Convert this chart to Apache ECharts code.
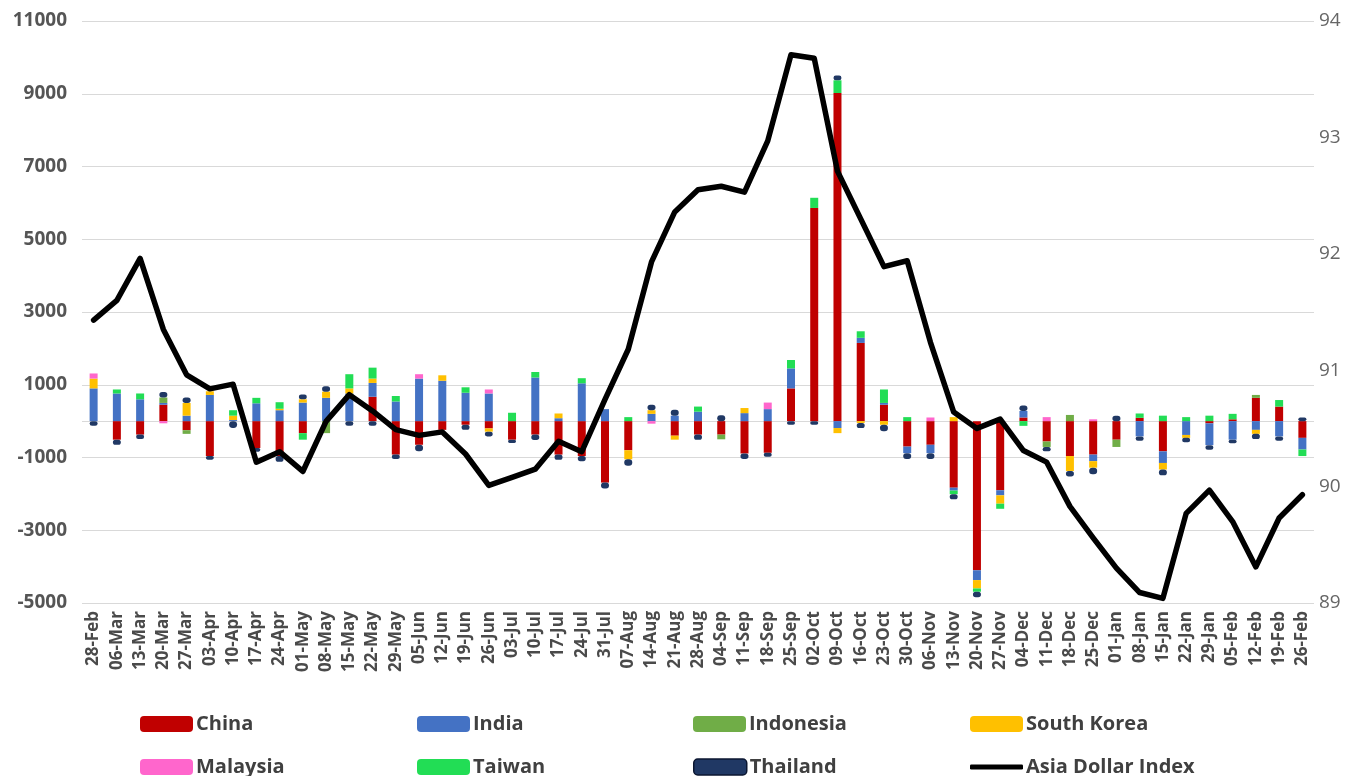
<!DOCTYPE html>
<html>
<head>
<meta charset="utf-8">
<script src="https://cdn.jsdelivr.net/npm/echarts@6/dist/echarts.min.js"></script>
<style>
html,body{margin:0;padding:0;background:#fff;}
#chart{width:1367px;height:776px;}
</style>
</head>
<body>
<div id="chart"></div>
<script>
const categories = ['28-Feb','06-Mar','13-Mar','20-Mar','27-Mar','03-Apr','10-Apr','17-Apr','24-Apr','01-May','08-May','15-May','22-May','29-May','05-Jun','12-Jun','19-Jun','26-Jun','03-Jul','10-Jul','17-Jul','24-Jul','31-Jul','07-Aug','14-Aug','21-Aug','28-Aug','04-Sep','11-Sep','18-Sep','25-Sep','02-Oct','09-Oct','16-Oct','23-Oct','30-Oct','06-Nov','13-Nov','20-Nov','27-Nov','04-Dec','11-Dec','18-Dec','25-Dec','01-Jan','08-Jan','15-Jan','22-Jan','29-Jan','05-Feb','12-Feb','19-Feb','26-Feb'];

const china = [0,-510,-370,450,-250,-960,0,-740,-960,-330, 0,0,670,-920,-650,-240,-100,-200,-510,-370, -920,-960,-1690,-800,0,-400,-370,-370,-890,-870, 900,5860,9020,2150,450,-700,-650,-1830,-4100,-1900, 100,-560,-960,-920,-510,90,-830,0,-60,50, 640,400,-460];
const india = [900,760,600,50,150,720,30,490,300,510, 640,760,380,540,1170,1110,780,760,0,1200, 80,1040,330,0,200,150,260,0,220,330, 550,0,-190,140,50,-180,-230,-80,-270,-140, 180,0,0,-180,0,-420,-320,-380,-600,-510, -240,-420,-320];
const indonesia = [0,0,0,150,-100,0,0,0,0,0, -330,0,0,0,0,0,0,0,0,0, 0,0,0,0,0,0,0,-130,0,0, 0,0,0,0,0,0,0,0,0,0, 0,-150,170,0,-200,0,0,0,0,0, 80,0,0];
const southKorea = [270,0,0,0,350,100,120,0,40,90, 170,140,120,0,0,150,0,-90,0,0, 130,0,0,-250,100,-110,0,0,140,0, 0,0,-140,-50,-100,0,0,110,-230,-230, 0,0,-410,-180,0,0,-180,-80,0,0, -110,0,0];
const malaysia = [140,0,0,-60,0,0,0,0,0,0, 0,0,0,0,120,0,0,110,0,0, 0,0,0,0,-70,0,0,0,0,180, 0,0,0,0,0,0,100,0,0,0, 0,110,0,50,0,0,0,0,0,0, 0,0,0];
const taiwan = [0,110,160,0,0,0,150,150,180,-180, 0,390,300,150,0,0,150,0,230,150, 0,140,0,110,0,0,140,0,0,0, 230,280,350,180,370,110,0,-100,-90,-140, -130,0,0,0,0,120,150,110,150,150, 0,180,-180];
const thailand = [-130,-140,-120,150,150,-100,-190,-100,-160,130, 150,-130,-130,-120,-180,0,-140,-130,-90,-150, -140,-140,-160,-180,150,160,-140,160,-150,-110, -100,-100,130,-140,-180,-160,-160,-140,-150,0, 150,-120,-150,-180,150,-120,-160,-120,-130,-100, -140,-120,100];
const asiaDollarIndex = [91.43,91.60,91.96,91.35,90.96,90.84,90.88,90.21,90.30,90.13, 90.56,90.79,90.65,90.49,90.44,90.47,90.28,90.01,90.08,90.15, 90.39,90.30,90.75,91.18,91.93,92.36,92.55,92.58,92.53,92.97, 93.71,93.68,92.71,92.30,91.89,91.94,91.24,90.64,90.50,90.58, 90.31,90.21,89.83,89.56,89.30,89.09,89.04,89.77,89.97,89.70, 89.31,89.73,89.93];

const leftTicks = {min:-5000, max:11000, interval:2000};
const rightTicks = {min:89, max:94, interval:1};

const barSeries = [
  ['China', china, '#C00000'],
  ['India', india, '#4472C4'],
  ['Indonesia', indonesia, '#70AD47'],
  ['South Korea', southKorea, '#FFC000'],
  ['Malaysia', malaysia, '#FF66CC'],
  ['Taiwan', taiwan, '#22DD55'],
  ['Thailand', thailand, '#203864']
];

const FONT = 'Open Sans';
const series = barSeries.map(([name, data, color], i) => {
  const s = {
    name, type:'bar', stack:'flows', data, barWidth:8,
    itemStyle:{color, borderRadius: name === 'Thailand' ? 4 : 0},
    emphasis:{disabled:true}, z:2
  };
  if (i === 0) {
    s.markLine = {silent:true, symbol:'none', label:{show:false},
      lineStyle:{color:'#D9D9D9', width:1, type:'solid'}, data:[{yAxis:0}], z:1};
  }
  return s;
});
series.push({
  name:'Asia Dollar Index', type:'line', yAxisIndex:1, data:asiaDollarIndex,
  symbol:'none', color:'#000', z:5,
  lineStyle:{color:'#000', width:5.5, join:'round', cap:'round'},
  emphasis:{disabled:true}
});

const legendSpots = [
  ['China',140,714],['India',417,714],['Indonesia',693,714],['South Korea',970,714],
  ['Malaysia',140,757],['Taiwan',417,757],['Thailand',693,757],['Asia Dollar Index',970,757]
];
const legends = legendSpots.map(([name,left,top]) => {
  const isLine = name === 'Asia Dollar Index';
  const item = {name, icon:'roundRect'};
  if (name === 'Thailand') item.itemStyle = {borderColor:'#0B1630', borderWidth:1.5};
  return {
    left, top, padding:0, orient:'horizontal',
    itemWidth:53, itemHeight: isLine ? 5 : 16, itemGap:0,
    data:[item],
    textStyle:{fontFamily:FONT, fontWeight:'bold', fontSize:20, color:'#404040', lineHeight:16, padding:[0,0,0,-2]},
    selectedMode:false
  };
});

const chart = echarts.init(document.getElementById('chart'), null, {renderer:'canvas'});
chart.setOption({
  animation:false,
  backgroundColor:'#fff',
  grid:{left:82, right:53, top:21, bottom:173, containLabel:false},
  legend: legends,
  xAxis:{
    type:'category', data:categories, boundaryGap:true,
    axisLine:{show:false}, axisTick:{show:false},
    axisLabel:{interval:0, rotate:90, margin:8, fontFamily:FONT, fontWeight:'bold', fontSize:17, color:'#4a4a4a'}
  },
  yAxis:[
    {type:'value', min:leftTicks.min, max:leftTicks.max, interval:leftTicks.interval,
     axisLine:{show:false}, axisTick:{show:false},
     splitLine:{lineStyle:{color:'#D9D9D9', width:1}},
     axisLabel:{margin:15, fontFamily:FONT, fontWeight:'bold', fontSize:19, color:'#555',
       formatter: v => String(v)}},
    {type:'value', min:rightTicks.min, max:rightTicks.max, interval:rightTicks.interval,
     axisLine:{show:false}, axisTick:{show:false}, splitLine:{show:false},
     axisLabel:{margin:5, fontFamily:FONT, fontSize:19, color:'#666'}}
  ],
  series
});
</script>
</body>
</html>
